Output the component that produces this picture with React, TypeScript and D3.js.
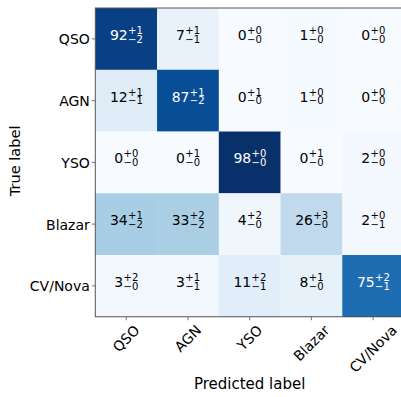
import React, { useEffect, useRef } from "react";
import * as d3 from "d3";

const categories = ["QSO", "AGN", "YSO", "Blazar", "CV/Nova"];
// rows = true label, cols = predicted label
const values = [
  [92, 7, 0, 1, 0],
  [12, 87, 0, 1, 0],
  [0, 0, 98, 0, 2],
  [34, 33, 4, 26, 2],
  [3, 3, 11, 8, 75],
];
const plusErr = [
  [1, 1, 0, 0, 0],
  [1, 1, 1, 0, 0],
  [0, 1, 0, 1, 0],
  [1, 2, 2, 3, 0],
  [2, 1, 2, 1, 2],
];
const minusErr = [
  [2, 1, 0, 0, 0],
  [1, 2, 0, 0, 0],
  [0, 0, 0, 0, 0],
  [2, 2, 0, 0, 1],
  [0, 1, 1, 0, 1],
];
const xLabel = "Predicted label";
const yLabel = "True label";

const blues = ["#f7fbff", "#deebf7", "#c6dbef", "#9ecae1", "#6baed6", "#4292c6", "#2171b5", "#08519c", "#08306b"];

const W = 401;
const H = 397;
const FONT = "DejaVu Sans, sans-serif";

export default function App() {
  const ref = useRef<SVGSVGElement | null>(null);

  useEffect(() => {
    const svg = d3.select(ref.current);
    svg.selectAll("*").remove();

    const left = 95.3;
    const top = 8;
    const cell = 61.75;
    const n = categories.length;

    const x = d3.scaleBand<string>().domain(categories).range([left, left + n * cell]);
    const y = d3.scaleBand<string>().domain(categories).range([top, top + n * cell]);

    const vmax = d3.max(values.flat()) as number;
    const vmin = d3.min(values.flat()) as number;
    const colorScale = d3
      .scaleLinear<string>()
      .domain(blues.map((_, i) => vmin + ((vmax - vmin) * i) / (blues.length - 1)))
      .range(blues)
      .interpolate(d3.interpolateRgb);
    const thresh = vmax / 2;

    const g = svg.append("g");

    // cells
    values.forEach((row, ri) => {
      row.forEach((v, ci) => {
        g.append("rect")
          .attr("x", x(categories[ci])!)
          .attr("y", y(categories[ri])!)
          .attr("width", x.bandwidth() + 0.3)
          .attr("height", y.bandwidth() + 0.3)
          .attr("fill", colorScale(v));
      });
    });

    // cell texts (value with +/- errors as super/subscripts, one text element)
    values.forEach((row, ri) => {
      row.forEach((v, ci) => {
        const cx = x(categories[ci])! + x.bandwidth() / 2;
        const cy = y(categories[ri])! + y.bandwidth() / 2;
        const fill = v > thresh ? "#ffffff" : "#000000";
        const t = g
          .append("text")
          .attr("font-family", FONT)
          .attr("fill", fill);
        const main = t.append("tspan").attr("font-size", 14).attr("y", cy + 1.1).text(String(v));
        const sup = t.append("tspan").attr("font-size", 10).attr("y", cy - 4.9).text("+" + plusErr[ri][ci]);
        const sub = t
          .append("tspan")
          .attr("font-size", 10)
          .attr("y", cy + 3.8)
          .text("\u2212" + minusErr[ri][ci]);
        const mw = (main.node() as SVGTextContentElement).getComputedTextLength();
        const sw = Math.max(
          (sup.node() as SVGTextContentElement).getComputedTextLength(),
          (sub.node() as SVGTextContentElement).getComputedTextLength()
        );
        const x0 = cx - (mw + sw) / 2;
        main.attr("x", x0);
        sup.attr("x", x0 + mw + 0.3);
        sub.attr("x", x0 + mw + 0.3);
      });
    });

    // frame
    g.append("rect")
      .attr("x", left)
      .attr("y", top)
      .attr("width", n * cell)
      .attr("height", n * cell)
      .attr("fill", "none")
      .attr("stroke", "#555")
      .attr("stroke-width", 1);

    const bottom = top + n * cell;

    // y ticks
    categories.forEach((c) => {
      const cy = y(c)! + y.bandwidth() / 2;
      g.append("line")
        .attr("x1", left - 3.5)
        .attr("x2", left)
        .attr("y1", cy)
        .attr("y2", cy)
        .attr("stroke", "#555")
        .attr("stroke-width", 0.8);
      g.append("text")
        .attr("font-family", FONT)
        .attr("font-size", 14)
        .attr("fill", "#000")
        .attr("text-anchor", "end")
        .attr("x", left - 5.5)
        .attr("y", cy)
        .attr("dy", "0.4em")
        .text(c);
    });

    // x ticks
    categories.forEach((c) => {
      const cx = x(c)! + x.bandwidth() / 2;
      g.append("line")
        .attr("x1", cx)
        .attr("x2", cx)
        .attr("y1", bottom)
        .attr("y2", bottom + 3.5)
        .attr("stroke", "#555")
        .attr("stroke-width", 0.8);
      const t = g
        .append("text")
        .attr("font-family", FONT)
        .attr("font-size", 14)
        .attr("fill", "#000")
        .attr("text-anchor", "middle")
        .attr("dy", "0.35em")
        .text(c);
      const w = (t.node() as SVGTextElement).getComputedTextLength();
      const h = 11;
      const half = (w + h) / (2 * Math.SQRT2);
      t.attr("transform", `translate(${cx},${bottom + 7 + half}) rotate(-45)`);
    });

    // axis labels
    g.append("text")
      .attr("font-family", FONT)
      .attr("font-size", 15)
      .attr("fill", "#000")
      .attr("text-anchor", "middle")
      .attr("x", left + (n * cell) / 2)
      .attr("y", 389)
      .text(xLabel);

    g.append("text")
      .attr("font-family", FONT)
      .attr("font-size", 14.6)
      .attr("fill", "#000")
      .attr("text-anchor", "middle")
      .attr("transform", `translate(20,${top + (n * cell) / 2 - 1.5}) rotate(-90)`)
      .text(yLabel);
  }, []);

  return (
    <svg
      ref={ref}
      width={W}
      height={H}
      style={{ position: "absolute", left: 0, top: 0, background: "#fff" }}
    />
  );
}
